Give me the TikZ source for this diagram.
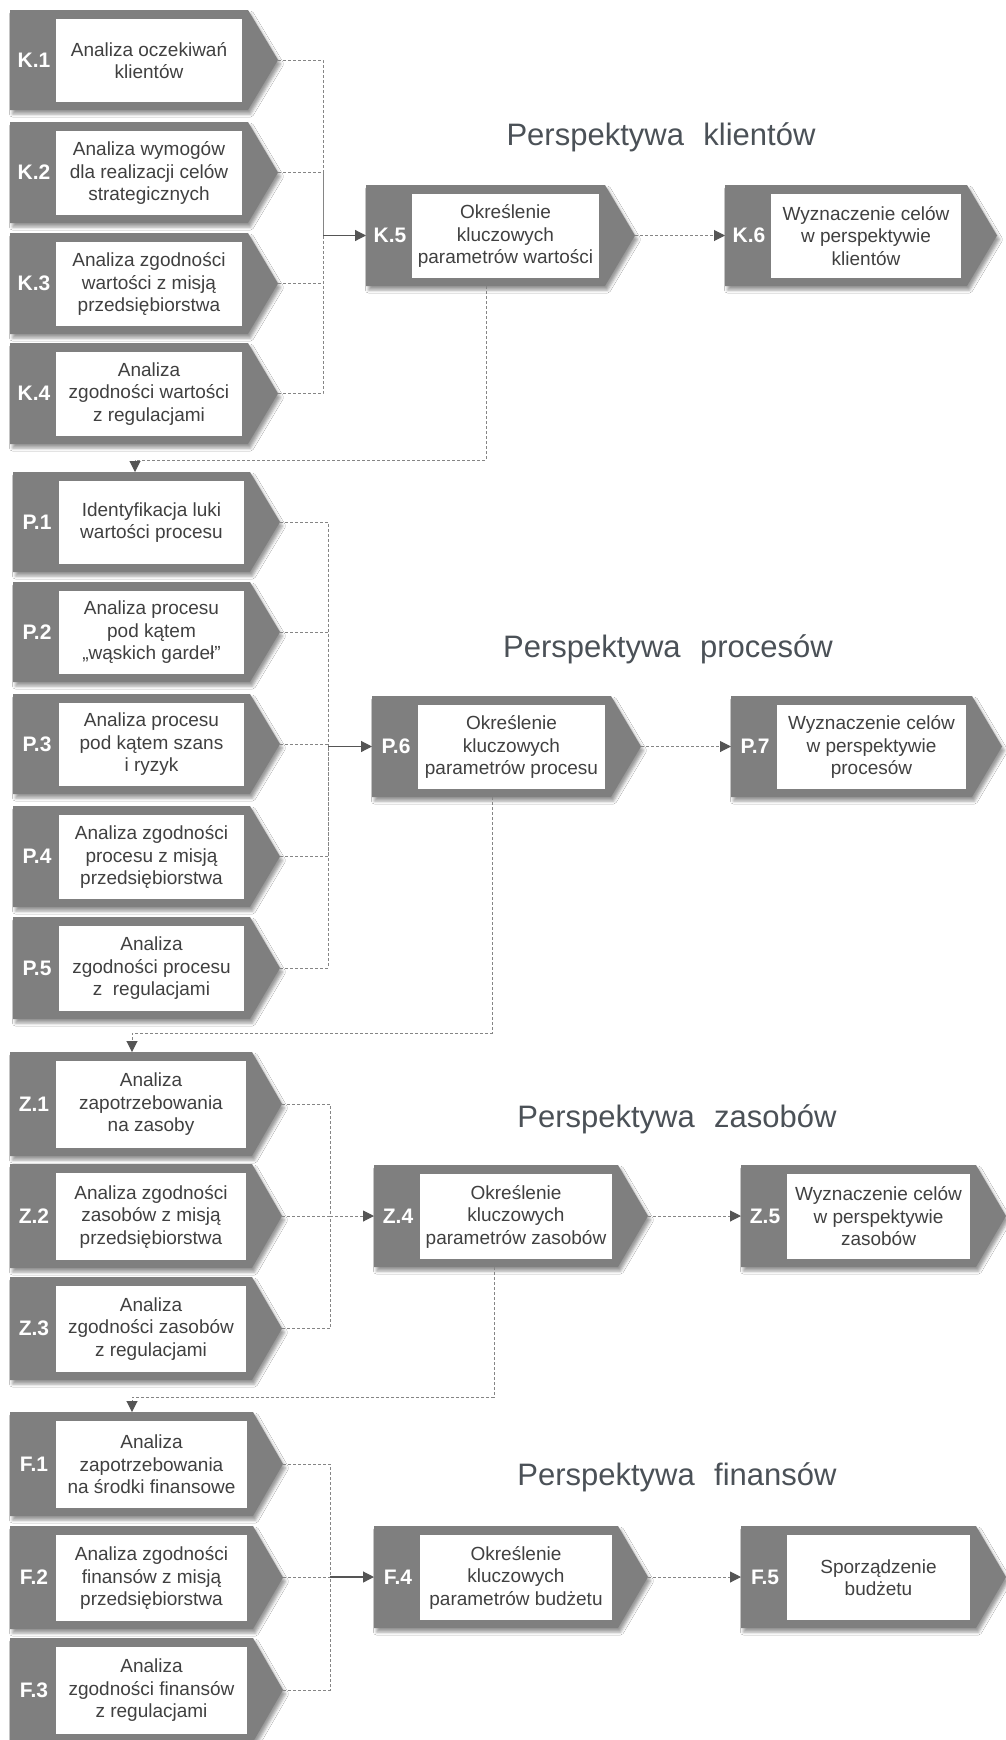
\documentclass[tikz,border=0pt]{standalone}
\usepackage{fontspec}
\setmainfont{Liberation Sans}
\usetikzlibrary{arrows.meta,shadows.blur}

\definecolor{boxgray}{HTML}{7F7F7F}
\definecolor{bodytext}{HTML}{404040}
\definecolor{titletext}{HTML}{4B5157}
\definecolor{linegray}{HTML}{858585}
\definecolor{tipgray}{HTML}{555555}

\tikzset{
  boxshape/.style={fill=boxgray,
    blur shadow={shadow xshift=2.5pt, shadow yshift=-4pt,
                 shadow blur radius=3pt, shadow opacity=40}},
  whitebox/.style={fill=white, inner sep=0pt, align=center, text=bodytext,
    font=\fontsize{19}{22.5}\selectfont},
  tagtext/.style={text=white, inner sep=0pt,
    font=\bfseries\fontsize{21}{25}\selectfont},
  dashline/.style={draw=linegray, line width=1pt, dash pattern=on 3pt off 2pt},
  headtip/.style={-{Triangle[length=11pt,width=11pt,fill=tipgray,color=tipgray]}},
  busarrow/.style={draw=tipgray, line width=1.2pt, headtip},
  titletxt/.style={text=titletext, anchor=base, inner sep=0pt,
    font=\fontsize{31}{36}\selectfont},
}

% chevron step: name, left, top, body width, height, tag, text
\newcommand\chevbox[7]{%
  \path[boxshape] (#2,#3) -- ({#2+#4},#3) -- ({#2+#4+30},{#3+#5/2})
    -- ({#2+#4},{#3+#5}) -- (#2,{#3+#5}) -- cycle;
  \node[whitebox, minimum width={#4-52}, minimum height={#5-17}] (#1)
    at ({#2+46+(#4-52)/2},{#3+9+(#5-17)/2}) {#7};
  \node[tagtext] (#1-tag) at ({#2+24},{#3+#5/2}) {#6};
  \coordinate (#1-tip) at ({#2+#4+30},{#3+#5/2});
  \coordinate (#1-in) at (#2,{#3+#5/2});
  \coordinate (#1-n) at ({#2+122},#3);
  \coordinate (#1-s) at ({#2+120},{#3+#5});
}

\begin{document}
\begin{tikzpicture}[x=1pt,y=-1pt]
\fill[white] (0,0) rectangle (1006,1740);
\useasboundingbox (0,0) rectangle (1006,1740);

% ---------------- customers
\node[titletxt] (tk) at (661,145) {Perspektywa\hspace{0.35em} klientów};
\chevbox{k1}{10}{10}{238}{100}{K.1}{Analiza oczekiwań\\klientów}
\chevbox{k2}{10}{122}{238}{101}{K.2}{Analiza wymogów\\dla realizacji celów\\strategicznych}
\chevbox{k3}{10}{233}{238}{101}{K.3}{Analiza zgodności\\wartości z misją\\przedsiębiorstwa}
\chevbox{k4}{10}{343}{238}{101}{K.4}{Analiza\\zgodności wartości\\z regulacjami}
\chevbox{k5}{366}{185}{239}{101}{K.5}{Określenie\\kluczowych\\parametrów wartości}
\chevbox{k6}{725}{185}{242}{101}{K.6}{Wyznaczenie celów\\w perspektywie\\klientów}

% ---------------- processes
\node[titletxt] (tp) at (668,657) {Perspektywa\hspace{0.35em} procesów};
\chevbox{p1}{13}{472}{237}{100}{P.1}{Identyfikacja luki\\wartości procesu}
\chevbox{p2}{13}{582}{237}{100}{P.2}{Analiza procesu\\pod kątem\\„wąskich gardeł”}
\chevbox{p3}{13}{694}{237}{100}{P.3}{Analiza procesu\\pod kątem szans\\i ryzyk}
\chevbox{p4}{13}{806}{237}{101}{P.4}{Analiza zgodności\\procesu z misją\\przedsiębiorstwa}
\chevbox{p5}{13}{917}{237}{102}{P.5}{Analiza\\zgodności procesu\\z\hspace{0.55em}regulacjami}
\chevbox{p6}{372}{696}{239}{101}{P.6}{Określenie\\kluczowych\\parametrów procesu}
\chevbox{p7}{731}{696}{241}{101}{P.7}{Wyznaczenie celów\\w perspektywie\\procesów}

% ---------------- resources
\node[titletxt] (tz) at (677,1127) {Perspektywa\hspace{0.35em} zasobów};
\chevbox{z1}{10}{1052}{242}{104}{Z.1}{Analiza\\zapotrzebowania\\na zasoby}
\chevbox{z2}{10}{1164}{242}{104}{Z.2}{Analiza zgodności\\zasobów z misją\\przedsiębiorstwa}
\chevbox{z3}{10}{1277}{242}{103}{Z.3}{Analiza\\zgodności zasobów\\z regulacjami}
\chevbox{z4}{374}{1165}{244}{102}{Z.4}{Określenie\\kluczowych\\parametrów zasobów}
\chevbox{z5}{741}{1165}{235}{102}{Z.5}{Wyznaczenie celów\\w perspektywie\\zasobów}

% ---------------- finances
\node[titletxt] (tf) at (677,1485) {Perspektywa\hspace{0.35em} finansów};
\chevbox{f1}{10}{1412}{243}{104}{F.1}{Analiza\\zapotrzebowania\\na środki finansowe}
\chevbox{f2}{10}{1526}{243}{103}{F.2}{Analiza zgodności\\finansów z misją\\przedsiębiorstwa}
\chevbox{f3}{10}{1638}{243}{104}{F.3}{Analiza\\zgodności finansów\\z regulacjami}
\chevbox{f4}{374}{1526}{244}{102}{F.4}{Określenie\\kluczowych\\parametrów budżetu}
\chevbox{f5}{741}{1526}{235}{102}{F.5}{Sporządzenie\\budżetu}

% ---------------- connectors
\coordinate (kx) at (323,0);
\coordinate (kbus) at (kx |- k5-in);
\foreach \n in {k1,k2,k3,k4} \draw[dashline] (\n-tip) -| (kbus);
\draw[busarrow] (kbus) -- (k5-in);
\draw[dashline, headtip] (k5-tip) -- (k6-in);
\path (p1-n) ++(0,-12) coordinate (kpturn);
\draw[dashline, headtip] (k5-s) |- (kpturn) -- (p1-n);

\coordinate (px) at (328,0);
\coordinate (pbus) at (px |- p6-in);
\foreach \n in {p1,p2,p3,p4,p5} \draw[dashline] (\n-tip) -| (pbus);
\draw[busarrow] (pbus) -- (p6-in);
\draw[dashline, headtip] (p6-tip) -- (p7-in);
\path (z1-n) ++(0,-19) coordinate (pzturn);
\draw[dashline, headtip] (p6-s) |- (pzturn) -- (z1-n);

\coordinate (zx) at (330,0);
\coordinate (zbus) at (zx |- z4-in);
\foreach \n in {z1,z2,z3} \draw[dashline] (\n-tip) -| (zbus);
\draw[dashline, headtip] (zbus) -- (z4-in);
\draw[dashline, headtip] (z4-tip) -- (z5-in);
\path (f1-n) ++(0,-15) coordinate (zfturn);
\draw[dashline, headtip] (z4-s) |- (zfturn) -- (f1-n);

\coordinate (fx) at (330,0);
\coordinate (fbus) at (fx |- f4-in);
\foreach \n in {f1,f2,f3} \draw[dashline] (\n-tip) -| (fbus);
\draw[busarrow] (fbus) -- (f4-in);
\draw[dashline, headtip] (f4-tip) -- (f5-in);
\end{tikzpicture}
\end{document}
